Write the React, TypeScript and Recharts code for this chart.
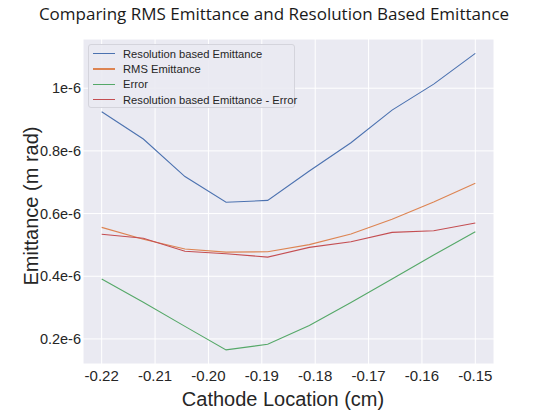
import React from "react";
import { LineChart, Line, XAxis, YAxis, CartesianGrid, Label } from "recharts";

// cathode positions (cm)
const cathodeLocations = [-0.22, -0.2122, -0.2044, -0.1967, -0.1889, -0.1811, -0.1733, -0.1656, -0.1578, -0.15];

// emittance values, in units of 1e-6 m rad
const resolutionEmittance = [0.925, 0.838, 0.718, 0.636, 0.642, 0.736, 0.826, 0.93, 1.013, 1.111];
const rmsEmittance = [0.556, 0.518, 0.487, 0.477, 0.478, 0.501, 0.535, 0.582, 0.637, 0.697];
const errorValues = [0.391, 0.317, 0.24, 0.165, 0.183, 0.243, 0.316, 0.391, 0.468, 0.542];
const resolutionMinusError = [0.534, 0.521, 0.48, 0.472, 0.461, 0.492, 0.51, 0.54, 0.545, 0.57];

const xTicks = [-0.22, -0.21, -0.2, -0.19, -0.18, -0.17, -0.16, -0.15];
const yTicks = [0.2, 0.4, 0.6, 0.8, 1];

const series = [
  { key: "resolution", name: "Resolution based Emittance", color: "#4c72b0" },
  { key: "rms", name: "RMS Emittance", color: "#dd8452" },
  { key: "error", name: "Error", color: "#55a868" },
  { key: "diff", name: "Resolution based Emittance - Error", color: "#c44e52" },
];

const data = cathodeLocations.map((x, i) => ({
  x,
  resolution: resolutionEmittance[i],
  rms: rmsEmittance[i],
  error: errorValues[i],
  diff: resolutionMinusError[i],
}));

const FONT = "'Liberation Sans', Arial, sans-serif";

const LegendBox = () => (
  <div
    style={{
      position: "absolute",
      left: 88,
      top: 44,
      width: 207,
      height: 64,
      background: "rgba(234,234,242,0.9)",
      border: "1px solid #d4d4dc",
      borderRadius: 3,
      padding: "1px 0 0 4px",
      fontFamily: FONT,
      fontSize: 11.2,
      color: "#262626",
      boxSizing: "border-box",
      whiteSpace: "nowrap",
      zIndex: 2,
    }}
  >
    {series.map(s => (
      <div key={s.key} style={{ display: "flex", alignItems: "center", height: 15.3 }}>
        <span
          style={{ display: "inline-block", flexShrink: 0, width: 22, height: 1.2, background: s.color, marginRight: 8 }}
        />
        <span>{s.name}</span>
      </div>
    ))}
  </div>
);

export default function App() {
  return (
    <div style={{ position: "absolute", left: 0, top: 0, width: 542, height: 411, background: "#fff" }}>
      <div
        style={{
          position: "absolute",
          left: 0,
          top: 2,
          width: 548,
          textAlign: "center",
          fontFamily: "'Open Sans', sans-serif",
          fontSize: 17,
          color: "#1a1a1a",
        }}
      >
        Comparing RMS Emittance and Resolution Based Emittance
      </div>
      <LineChart width={542} height={411} data={data} margin={{ top: 39, right: 48, bottom: 0, left: 0 }}>
        <CartesianGrid stroke="#ffffff" strokeWidth={1} fill="#eaeaf2" />
        <XAxis
          dataKey="x"
          type="number"
          domain={[-0.2235, -0.1465]}
          ticks={xTicks}
          tickFormatter={(v: number) => v.toFixed(2)}
          axisLine={false}
          tickLine={false}
          tickSize={0}
          tickMargin={6}
          height={47}
          tick={{ fontFamily: FONT, fontSize: 15, fill: "#262626" }}
        >
          <Label
            content={() => (
              <text x={283} y={406} textAnchor="middle" fontFamily={FONT} fontSize={20} fill="#262626">
                Cathode Location (cm)
              </text>
            )}
          />
        </XAxis>
        <YAxis
          type="number"
          domain={[0.12, 1.157]}
          ticks={yTicks}
          tickFormatter={(v: number) => `${v}e-6`}
          axisLine={false}
          tickLine={false}
          tickSize={0}
          tickMargin={2}
          width={83}
          tick={{ fontFamily: FONT, fontSize: 14.5, fill: "#262626" }}
        >
          <Label
            content={() => (
              <text
                x={38}
                y={206}
                textAnchor="middle"
                transform="rotate(-90 38 206)"
                fontFamily={FONT}
                fontSize={20}
                fill="#262626"
              >
                Emittance (m rad)
              </text>
            )}
          />
        </YAxis>
        {series.map(s => (
          <Line
            key={s.key}
            type="linear"
            dataKey={s.key}
            name={s.name}
            stroke={s.color}
            strokeWidth={1.1}
            dot={false}
            isAnimationActive={false}
          />
        ))}
      </LineChart>
      <LegendBox />
    </div>
  );
}
